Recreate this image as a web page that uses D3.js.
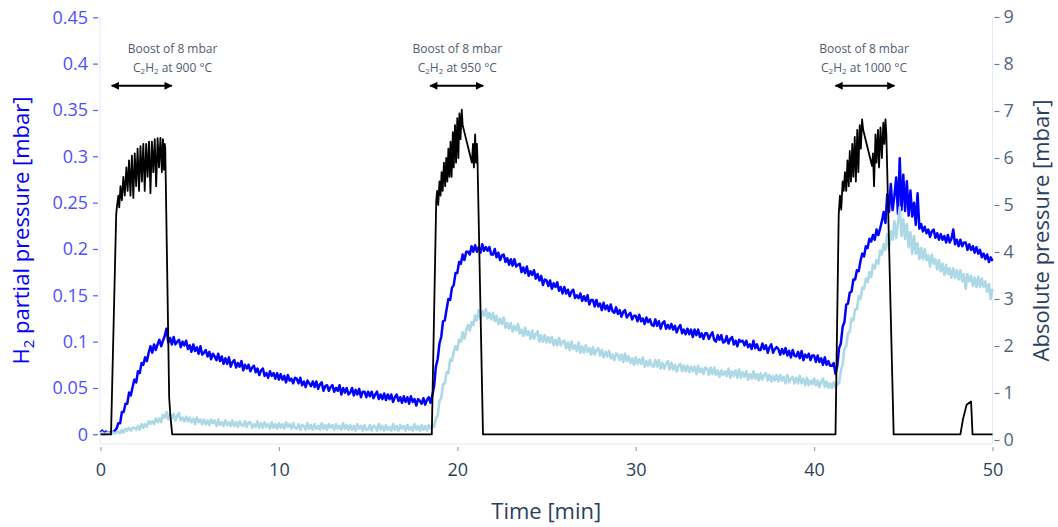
<!DOCTYPE html>
<html>
<head>
<meta charset="utf-8">
<script src="https://cdn.jsdelivr.net/npm/d3@7"></script>
<style>
  body { margin: 0; background: #fff; }
  text { font-family: "Open Sans", sans-serif; }
</style>
</head>
<body>
<div id="chart_area"></div>
<script>
// sampling of the two H2 traces: one value every 0.1 min from 0 to 50 (one row = one minute)
var sampleStep = 0.1;

var h2Blue = [
  0.002,0.004,0.001,0.003,0.002,0.001,0.003,0.002,0.004,0.006,
  0.012,0.012,0.024,0.024,0.033,0.033,0.045,0.042,0.051,0.059,
  0.056,0.068,0.066,0.077,0.075,0.083,0.079,0.088,0.095,0.088,
  0.097,0.091,0.097,0.102,0.095,0.101,0.106,0.114,0.099,0.104,
  0.097,0.105,0.097,0.100,0.102,0.094,0.100,0.096,0.101,0.092,
  0.096,0.089,0.097,0.090,0.094,0.087,0.095,0.086,0.088,0.091,
  0.084,0.089,0.081,0.087,0.084,0.080,0.087,0.079,0.084,0.076,
  0.082,0.076,0.083,0.073,0.078,0.080,0.072,0.077,0.073,0.079,
  0.069,0.075,0.071,0.075,0.068,0.072,0.074,0.067,0.071,0.064,
  0.069,0.071,0.063,0.066,0.061,0.068,0.063,0.066,0.060,0.066,
  0.059,0.065,0.059,0.063,0.056,0.064,0.058,0.060,0.055,0.061,
  0.060,0.055,0.061,0.053,0.057,0.051,0.058,0.055,0.052,0.057,
  0.051,0.057,0.049,0.054,0.056,0.047,0.052,0.053,0.047,0.051,
  0.053,0.046,0.050,0.047,0.053,0.043,0.050,0.045,0.050,0.043,
  0.045,0.050,0.042,0.048,0.043,0.049,0.040,0.046,0.046,0.040,
  0.046,0.041,0.046,0.039,0.043,0.046,0.038,0.043,0.038,0.044,
  0.037,0.043,0.038,0.043,0.035,0.040,0.043,0.036,0.040,0.034,
  0.041,0.035,0.040,0.033,0.041,0.035,0.038,0.031,0.038,0.036,
  0.033,0.039,0.032,0.037,0.040,0.034,0.042,0.052,0.073,0.081,
  0.098,0.105,0.122,0.123,0.135,0.146,0.145,0.158,0.161,0.174,
  0.174,0.186,0.184,0.194,0.188,0.197,0.197,0.194,0.203,0.197,
  0.204,0.197,0.202,0.196,0.205,0.198,0.202,0.198,0.202,0.194,
  0.194,0.200,0.191,0.196,0.188,0.193,0.194,0.186,0.190,0.183,
  0.189,0.182,0.189,0.181,0.183,0.184,0.175,0.180,0.174,0.181,
  0.171,0.176,0.172,0.177,0.168,0.173,0.166,0.171,0.161,0.167,
  0.166,0.160,0.166,0.157,0.163,0.159,0.164,0.155,0.159,0.152,
  0.159,0.152,0.156,0.149,0.154,0.156,0.147,0.150,0.147,0.152,
  0.144,0.149,0.144,0.150,0.140,0.145,0.145,0.138,0.145,0.138,
  0.141,0.134,0.142,0.135,0.139,0.133,0.140,0.133,0.131,0.137,
  0.130,0.134,0.127,0.132,0.134,0.126,0.129,0.131,0.124,0.128,
  0.128,0.122,0.129,0.122,0.125,0.119,0.126,0.121,0.124,0.118,
  0.117,0.124,0.117,0.122,0.114,0.120,0.122,0.114,0.118,0.114,
  0.119,0.113,0.117,0.110,0.115,0.118,0.109,0.113,0.108,0.114,
  0.108,0.113,0.105,0.113,0.107,0.113,0.105,0.109,0.103,0.109,
  0.109,0.103,0.107,0.110,0.102,0.100,0.107,0.102,0.107,0.099,
  0.100,0.106,0.098,0.103,0.105,0.097,0.101,0.095,0.102,0.100,
  0.101,0.096,0.101,0.094,0.097,0.092,0.101,0.093,0.097,0.091,
  0.091,0.098,0.092,0.096,0.088,0.094,0.097,0.088,0.092,0.094,
  0.092,0.086,0.092,0.087,0.093,0.085,0.090,0.083,0.091,0.085,
  0.084,0.089,0.082,0.090,0.080,0.086,0.083,0.087,0.080,0.085,
  0.085,0.078,0.085,0.078,0.082,0.075,0.083,0.075,0.079,0.074,
  0.074,0.077,0.065,0.074,0.093,0.098,0.116,0.121,0.140,0.141,
  0.153,0.154,0.167,0.167,0.177,0.176,0.187,0.195,0.192,0.203,
  0.201,0.211,0.208,0.215,0.210,0.221,0.215,0.222,0.230,0.240,
  0.228,0.259,0.240,0.270,0.242,0.257,0.277,0.238,0.298,0.242,
  0.280,0.241,0.273,0.236,0.263,0.235,0.250,0.226,0.260,0.222,
  0.227,0.219,0.224,0.217,0.221,0.213,0.219,0.221,0.212,0.217,
  0.210,0.216,0.210,0.214,0.207,0.215,0.207,0.211,0.221,0.205,
  0.210,0.203,0.210,0.203,0.207,0.207,0.199,0.205,0.199,0.203,
  0.196,0.202,0.195,0.199,0.191,0.195,0.189,0.194,0.186,0.191,
  0.187
];

var h2Light = [
  0.001,0.002,0.000,0.001,0.002,0.001,0.000,0.002,0.001,0.002,
  0.003,0.001,0.005,0.002,0.006,0.004,0.007,0.004,0.007,0.007,
  0.005,0.009,0.005,0.011,0.007,0.011,0.008,0.014,0.011,0.014,
  0.011,0.017,0.013,0.017,0.013,0.021,0.018,0.024,0.016,0.022,
  0.017,0.022,0.015,0.020,0.023,0.015,0.018,0.014,0.019,0.014,
  0.018,0.013,0.017,0.011,0.018,0.013,0.016,0.011,0.016,0.011,
  0.015,0.010,0.016,0.012,0.015,0.009,0.016,0.010,0.013,0.009,
  0.015,0.010,0.013,0.009,0.015,0.009,0.013,0.008,0.014,0.010,
  0.009,0.014,0.008,0.013,0.013,0.007,0.011,0.008,0.014,0.007,
  0.012,0.007,0.013,0.008,0.011,0.006,0.013,0.007,0.011,0.006,
  0.012,0.007,0.011,0.006,0.013,0.008,0.011,0.006,0.012,0.007,
  0.006,0.011,0.005,0.010,0.009,0.005,0.012,0.006,0.010,0.005,
  0.011,0.006,0.009,0.005,0.012,0.006,0.010,0.005,0.011,0.007,
  0.010,0.005,0.011,0.006,0.009,0.005,0.012,0.006,0.010,0.005,
  0.010,0.005,0.009,0.004,0.011,0.006,0.009,0.004,0.010,0.005,
  0.005,0.010,0.004,0.009,0.008,0.004,0.011,0.005,0.009,0.004,
  0.010,0.005,0.008,0.004,0.011,0.005,0.009,0.004,0.010,0.006,
  0.009,0.004,0.010,0.005,0.008,0.004,0.011,0.005,0.009,0.004,
  0.010,0.005,0.009,0.004,0.010,0.006,0.010,0.008,0.017,0.020,
  0.036,0.039,0.054,0.055,0.067,0.066,0.081,0.079,0.089,0.095,
  0.091,0.102,0.100,0.110,0.103,0.112,0.118,0.112,0.121,0.118,
  0.128,0.123,0.134,0.125,0.133,0.128,0.135,0.125,0.131,0.124,
  0.131,0.122,0.128,0.119,0.125,0.119,0.126,0.115,0.120,0.114,
  0.120,0.111,0.117,0.112,0.119,0.109,0.113,0.106,0.115,0.107,
  0.111,0.103,0.112,0.103,0.108,0.111,0.100,0.107,0.100,0.107,
  0.099,0.105,0.099,0.105,0.096,0.102,0.096,0.104,0.096,0.100,
  0.101,0.093,0.099,0.091,0.100,0.092,0.096,0.090,0.099,0.088,
  0.095,0.088,0.096,0.089,0.093,0.086,0.094,0.086,0.091,0.093,
  0.085,0.091,0.083,0.089,0.084,0.090,0.082,0.086,0.080,0.087,
  0.086,0.080,0.086,0.078,0.087,0.079,0.084,0.077,0.082,0.075,
  0.083,0.076,0.081,0.076,0.083,0.073,0.079,0.074,0.080,0.074,
  0.073,0.080,0.073,0.080,0.071,0.077,0.071,0.076,0.079,0.070,
  0.077,0.070,0.075,0.068,0.074,0.076,0.068,0.074,0.068,0.074,
  0.067,0.073,0.068,0.073,0.065,0.074,0.067,0.071,0.065,0.072,
  0.071,0.064,0.072,0.065,0.072,0.064,0.069,0.062,0.069,0.064,
  0.068,0.063,0.071,0.061,0.068,0.063,0.069,0.061,0.070,0.061,
  0.067,0.062,0.068,0.059,0.065,0.060,0.068,0.060,0.065,0.058,
  0.066,0.059,0.064,0.066,0.058,0.064,0.057,0.063,0.058,0.064,
  0.057,0.064,0.058,0.062,0.055,0.064,0.056,0.060,0.062,0.055,
  0.061,0.055,0.063,0.055,0.060,0.053,0.061,0.053,0.058,0.054,
  0.060,0.053,0.058,0.051,0.057,0.060,0.051,0.057,0.050,0.055,
  0.050,0.056,0.050,0.055,0.055,0.069,0.075,0.092,0.095,0.109,
  0.111,0.125,0.123,0.135,0.135,0.149,0.146,0.158,0.157,0.168,
  0.164,0.175,0.170,0.183,0.179,0.188,0.184,0.198,0.194,0.205,
  0.199,0.216,0.200,0.219,0.210,0.230,0.212,0.228,0.245,0.214,
  0.232,0.211,0.227,0.202,0.218,0.195,0.214,0.195,0.206,0.189,
  0.201,0.189,0.200,0.188,0.193,0.181,0.194,0.184,0.189,0.178,
  0.188,0.176,0.184,0.172,0.183,0.173,0.179,0.169,0.179,0.169,
  0.177,0.167,0.177,0.165,0.173,0.157,0.173,0.165,0.171,0.160,
  0.169,0.159,0.170,0.159,0.168,0.159,0.165,0.154,0.162,0.146,
  0.157
];

// absolute pressure (right axis), irregular time points
var absTime = [
  0,0.59,0.88,0.93,1.0,1.05,1.12,1.2,1.28,1.36,1.45,1.52,1.6,1.68,1.76,1.84,1.92,2.0,2.08,2.16,
  2.24,2.32,2.4,2.48,2.56,2.64,2.72,2.8,2.88,2.96,3.04,3.12,3.2,3.28,3.36,3.44,3.5,3.56,3.6,3.63,
  3.85,3.92,4.02,
  18.57,18.82,18.87,18.93,19.0,19.06,19.12,19.18,19.25,19.32,19.38,19.44,19.5,19.56,19.62,19.68,
  19.75,19.8,19.87,19.93,20.0,20.06,20.12,20.18,20.25,20.3,20.82,20.88,20.93,21.0,21.05,21.1,21.13,
  21.44,
  41.2,41.38,41.45,41.52,41.6,41.66,41.73,41.8,41.87,41.94,42.0,42.07,42.14,42.2,42.28,42.34,
  42.42,42.48,42.56,42.62,42.69,42.75,43.25,43.3,43.36,43.44,43.5,43.58,43.64,43.72,43.8,43.88,
  43.94,44.0,44.05,44.46,
  48.2,48.35,48.45,48.55,48.8,48.88,50
];
var absPressure = [
  0.12,0.12,4.8,5.0,5.2,4.95,5.4,5.1,5.6,5.2,5.8,5.3,5.95,5.2,6.05,5.15,6.1,5.4,6.2,5.3,
  6.25,5.5,6.3,5.3,6.3,5.6,6.35,5.25,6.35,5.7,6.4,5.4,6.42,5.8,6.43,5.7,6.4,5.75,6.3,6.2,
  0.9,0.5,0.12,
  0.12,5.1,5.3,5.0,5.5,5.2,5.7,5.3,5.9,5.4,6.0,5.5,6.2,5.6,6.35,5.6,
  6.55,5.8,6.7,5.9,6.85,6.0,6.95,6.4,7.03,6.7,5.9,6.3,5.8,6.5,5.9,6.3,6.0,
  0.12,
  0.12,4.8,5.2,4.9,5.5,5.3,5.7,5.3,5.95,5.4,6.15,5.5,6.3,5.6,6.45,5.5,
  6.6,5.7,6.7,6.2,6.82,6.6,5.83,6.1,5.4,6.5,5.9,6.6,5.8,6.65,6.0,6.75,
  6.3,6.82,6.5,0.12,
  0.12,0.45,0.6,0.75,0.82,0.12,0.12
];

var xTicks = [0, 10, 20, 30, 40, 50];
var leftTicks = [0, 0.05, 0.1, 0.15, 0.2, 0.25, 0.3, 0.35, 0.4, 0.45];
var leftTickLabels = ["0", "0.05", "0.1", "0.15", "0.2", "0.25", "0.3", "0.35", "0.4", "0.45"];
var rightTicks = [0, 1, 2, 3, 4, 5, 6, 7, 8, 9];

// boost annotations
var boostTemps = ["900", "950", "1000"];
var arrowStart = [0.63, 18.48, 41.2];
var arrowEnd = [3.99, 21.45, 44.5];
var labelX = [4.04, 20.0, 42.8];

var width = 1058, height = 527;
var plotLeft = 100, plotRight = 992.5, plotTop = 17, plotBottom = 444;

var svg = d3.select("#chart_area")
  .append("svg")
  .attr("width", width)
  .attr("height", height);

var x = d3.scaleLinear().domain([0, 50]).range([100.5, 992.5]);
var yLeft = d3.scaleLinear().domain([0, 0.45]).range([434.3, 17.3]);
var yRight = d3.scaleLinear().domain([0, 9]).range([440, 17]);

// axis lines
svg.append("line")
  .attr("x1", plotLeft).attr("x2", plotLeft)
  .attr("y1", plotTop).attr("y2", plotBottom)
  .attr("stroke", "#e3e8f4").attr("stroke-width", 1);
svg.append("line")
  .attr("x1", plotRight).attr("x2", plotRight)
  .attr("y1", plotTop).attr("y2", plotBottom)
  .attr("stroke", "#e3e8f4").attr("stroke-width", 1);
svg.append("line")
  .attr("x1", plotLeft).attr("x2", plotRight)
  .attr("y1", plotBottom).attr("y2", plotBottom)
  .attr("stroke", "#e3e8f4").attr("stroke-width", 1);

// left axis
var gLeft = svg.append("g")
  .attr("transform", "translate(98,0)")
  .call(d3.axisLeft(yLeft)
    .tickValues(leftTicks)
    .tickSize(5)
    .tickPadding(5)
    .tickFormat(function (d, i) { return leftTickLabels[i]; }));
gLeft.select(".domain").remove();
gLeft.selectAll("line").attr("stroke", "#5a5aff").attr("stroke-width", 1.2);
gLeft.selectAll("text")
  .attr("fill", "#4f4fff")
  .attr("font-size", "18px")
  .attr("font-family", "Open Sans");

// right axis
var gRight = svg.append("g")
  .attr("transform", "translate(994.5,0)")
  .call(d3.axisRight(yRight)
    .tickValues(rightTicks)
    .tickSize(5)
    .tickPadding(4)
    .tickFormat(d3.format("d")));
gRight.select(".domain").remove();
gRight.selectAll("line").attr("stroke", "#6c7a93").attr("stroke-width", 1.2);
gRight.selectAll("text")
  .attr("fill", "#506784")
  .attr("font-size", "18px")
  .attr("font-family", "Open Sans");

// bottom axis
var gBottom = svg.append("g")
  .attr("transform", "translate(0,447)")
  .call(d3.axisBottom(x)
    .tickValues(xTicks)
    .tickSize(4)
    .tickPadding(12)
    .tickFormat(d3.format("d")));
gBottom.select(".domain").remove();
gBottom.selectAll("line").attr("stroke", "#9aa3b3").attr("stroke-width", 1.2);
gBottom.selectAll("text")
  .attr("fill", "#2a3f5f")
  .attr("font-size", "18px")
  .attr("font-family", "Open Sans");

// axis titles
svg.append("text")
  .attr("x", (plotLeft + plotRight) / 2)
  .attr("y", 519)
  .attr("text-anchor", "middle")
  .attr("font-size", "22px")
  .attr("fill", "#2a3f5f")
  .text("Time [min]");

var leftTitle = svg.append("text")
  .attr("transform", "translate(29," + ((plotTop + plotBottom) / 2) + ") rotate(-90)")
  .attr("text-anchor", "middle")
  .attr("font-size", "22px")
  .attr("fill", "#0000ff");
leftTitle.append("tspan").text("H");
leftTitle.append("tspan").attr("font-size", "15px").attr("dy", 5).text("2");
leftTitle.append("tspan").attr("dy", -5).text(" partial pressure [mbar]");

svg.append("text")
  .attr("transform", "translate(1049," + ((plotTop + plotBottom) / 2) + ") rotate(-90)")
  .attr("text-anchor", "middle")
  .attr("font-size", "22px")
  .attr("fill", "#2a3f5f")
  .text("Absolute pressure [mbar]");

// traces
var h2Line = d3.line()
  .x(function (d, i) { return x(i * sampleStep); })
  .y(function (d) { return yLeft(d); });

var absLine = d3.line()
  .x(function (d, i) { return x(absTime[i]); })
  .y(function (d) { return yRight(d); });

svg.append("path")
  .datum(h2Blue)
  .attr("d", h2Line)
  .attr("fill", "none")
  .attr("stroke", "#0000ff")
  .attr("stroke-width", 2.5)
  .attr("stroke-linejoin", "round");

svg.append("path")
  .datum(h2Light)
  .attr("d", h2Line)
  .attr("fill", "none")
  .attr("stroke", "#add8e6")
  .attr("stroke-width", 2.6)
  .attr("stroke-linejoin", "round");

svg.append("path")
  .datum(absPressure)
  .attr("d", absLine)
  .attr("fill", "none")
  .attr("stroke", "#000")
  .attr("stroke-width", 1.8)
  .attr("stroke-linejoin", "round");

// arrow heads
var defs = svg.append("defs");
defs.append("marker")
  .attr("id", "head")
  .attr("viewBox", "0 0 10 10")
  .attr("refX", 9).attr("refY", 5)
  .attr("markerWidth", 5).attr("markerHeight", 4)
  .attr("markerUnits", "strokeWidth")
  .attr("orient", "auto-start-reverse")
  .append("path")
  .attr("d", "M0,0 L10,5 L0,10 Z")
  .attr("fill", "#000");

var annot = svg.selectAll(".boost")
  .data(boostTemps)
  .enter()
  .append("g")
  .attr("class", "boost");

annot.append("line")
  .attr("x1", function (d, i) { return x(arrowStart[i]); })
  .attr("x2", function (d, i) { return x(arrowEnd[i]); })
  .attr("y1", yLeft(0.376))
  .attr("y2", yLeft(0.376))
  .attr("stroke", "#000")
  .attr("stroke-width", 2)
  .attr("marker-start", "url(#head)")
  .attr("marker-end", "url(#head)");

annot.append("text")
  .attr("x", function (d, i) { return x(labelX[i]); })
  .attr("y", 53)
  .attr("text-anchor", "middle")
  .attr("font-size", "12px")
  .attr("fill", "#4f5b70")
  .text("Boost of 8 mbar");

var line2 = annot.append("text")
  .attr("x", function (d, i) { return x(labelX[i]); })
  .attr("y", 72)
  .attr("text-anchor", "middle")
  .attr("font-size", "12px")
  .attr("fill", "#4f5b70");
line2.append("tspan").text("C");
line2.append("tspan").attr("font-size", "8px").attr("dy", 2).text("2");
line2.append("tspan").attr("dy", -2).text("H");
line2.append("tspan").attr("font-size", "8px").attr("dy", 2).text("2");
line2.append("tspan").attr("dy", -2).text(function (d) { return " at " + d + " °C"; });
</script>
</body>
</html>
